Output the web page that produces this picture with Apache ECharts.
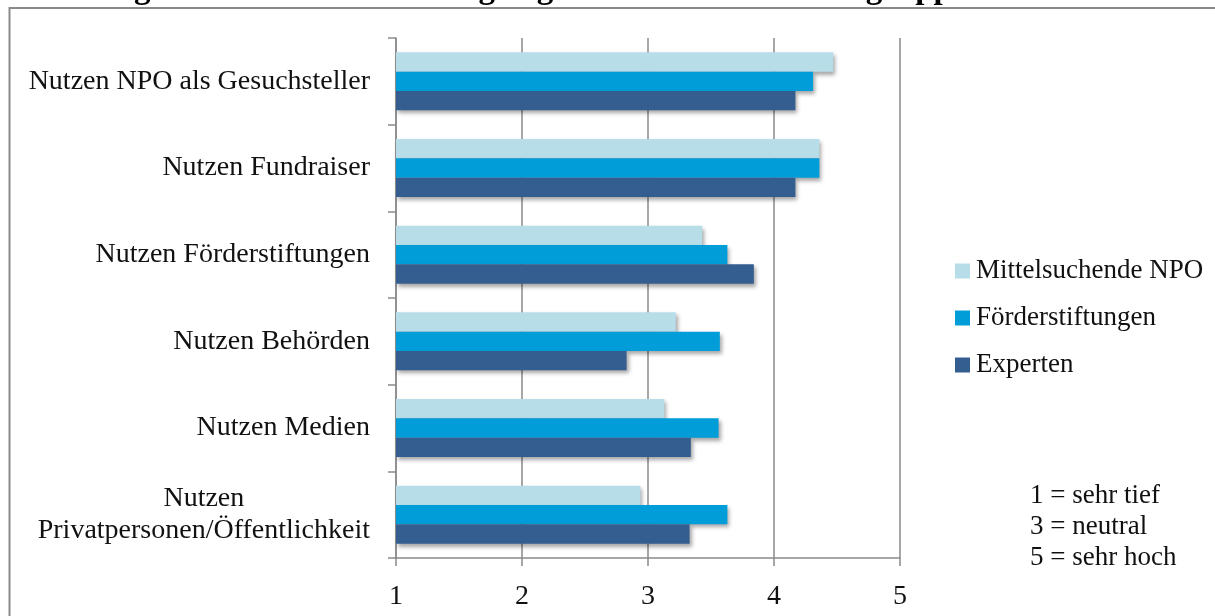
<!DOCTYPE html>
<html>
<head>
<meta charset="utf-8">
<style>
  html, body { margin: 0; padding: 0; background: #ffffff; }
  #chart { width: 1215px; height: 616px; }
</style>
<script src="https://cdn.jsdelivr.net/npm/echarts@6/dist/echarts.min.js"></script>
</head>
<body>
<div id="chart"></div>
<script>
// Target groups, listed top to bottom
const categories = [
  'Nutzen NPO als Gesuchsteller',
  'Nutzen Fundraiser',
  'Nutzen Förderstiftungen',
  'Nutzen Behörden',
  'Nutzen Medien',
  'Nutzen\nPrivatpersonen/Öffentlichkeit'
];

// Mean ratings per respondent group (1 = sehr tief ... 5 = sehr hoch)
const mittelsuchendeNPO = [4.47, 4.36, 3.43, 3.22, 3.13, 2.94];
const foerderstiftungen = [4.31, 4.36, 3.63, 3.57, 3.56, 3.63];
const experten          = [4.17, 4.17, 3.84, 2.83, 3.34, 3.33];

const seriesNames = ['Mittelsuchende NPO', 'Förderstiftungen', 'Experten'];
const seriesColors = ['#B7DDE8', '#009DD9', '#345E90'];

const scaleNote = ['1 = sehr tief', '3 = neutral', '5 = sehr hoch'];
const title = 'Abbildung 6: Nutzen eines Stiftungsregisters für einzelne Zielgruppen';

const FONT = '"Liberation Serif", "Times New Roman", serif';
const AXIS_GREY = '#8a8a8a';

const chart = echarts.init(document.getElementById('chart'), null, { renderer: 'canvas' });

function barSeries(name, data, color) {
  return {
    name: name,
    type: 'bar',
    data: data,
    barGap: '0%',
    barCategoryGap: '33%',
    itemStyle: {
      color: color,
      shadowColor: 'rgba(0,0,0,0.35)',
      shadowBlur: 4,
      shadowOffsetX: 2,
      shadowOffsetY: 3
    },
    emphasis: { disabled: true }
  };
}

chart.setOption({
  animation: false,
  backgroundColor: '#ffffff',
  textStyle: { fontFamily: FONT },
  grid: { left: 396, right: 315, top: 38, bottom: 58, containLabel: false },
  legend: {
    orient: 'vertical',
    left: 950,
    top: 251,
    itemWidth: 15,
    itemHeight: 15,
    itemGap: 17,
    icon: 'rect',
    data: seriesNames,
    textStyle: { fontFamily: FONT, fontSize: 27, color: '#111', lineHeight: 30, padding: [0, 0, 0, 1] },
    selectedMode: false
  },
  xAxis: {
    type: 'value',
    min: 1,
    max: 5,
    interval: 1,
    axisLine: { show: true, lineStyle: { color: AXIS_GREY, width: 1.5 } },
    axisTick: { show: true, length: 8, lineStyle: { color: AXIS_GREY, width: 1.5 } },
    splitLine: { show: true, lineStyle: { color: AXIS_GREY, width: 1.5 } },
    axisLabel: { fontFamily: FONT, fontSize: 28, color: '#111', margin: 25 }
  },
  yAxis: {
    type: 'category',
    data: categories,
    inverse: true,
    axisLine: { show: true, lineStyle: { color: AXIS_GREY, width: 1.5 } },
    axisTick: { show: true, length: 8, lineStyle: { color: AXIS_GREY, width: 1.5 } },
    axisLabel: {
      fontFamily: FONT,
      fontSize: 28,
      color: '#111',
      margin: 26,
      align: 'right',
      lineHeight: 32,
      formatter: function (v) {
        return v.split('\n').map(function (s) { return '{c|' + s + '}'; }).join('\n');
      },
      rich: { c: { fontFamily: FONT, fontSize: 28, color: '#111', lineHeight: 32, align: 'center' } }
    }
  },
  series: [
    barSeries(seriesNames[0], mittelsuchendeNPO, seriesColors[0]),
    barSeries(seriesNames[1], foerderstiftungen, seriesColors[1]),
    barSeries(seriesNames[2], experten, seriesColors[2])
  ],
  graphic: [
    {
      type: 'rect',
      silent: true,
      shape: { x: 9.5, y: 8, width: 1300, height: 700 },
      style: { fill: 'none', stroke: '#8a8a8a', lineWidth: 2 }
    },
    {
      type: 'text',
      silent: true,
      left: 0,
      top: -27,
      style: { text: title, font: 'bold 33px ' + FONT, fill: '#000' }
    },
    {
      type: 'text',
      silent: true,
      left: 1030,
      top: 480,
      style: { text: scaleNote.join('\n'), font: '27px ' + FONT, lineHeight: 31, fill: '#111' }
    }
  ]
});
</script>
</body>
</html>
